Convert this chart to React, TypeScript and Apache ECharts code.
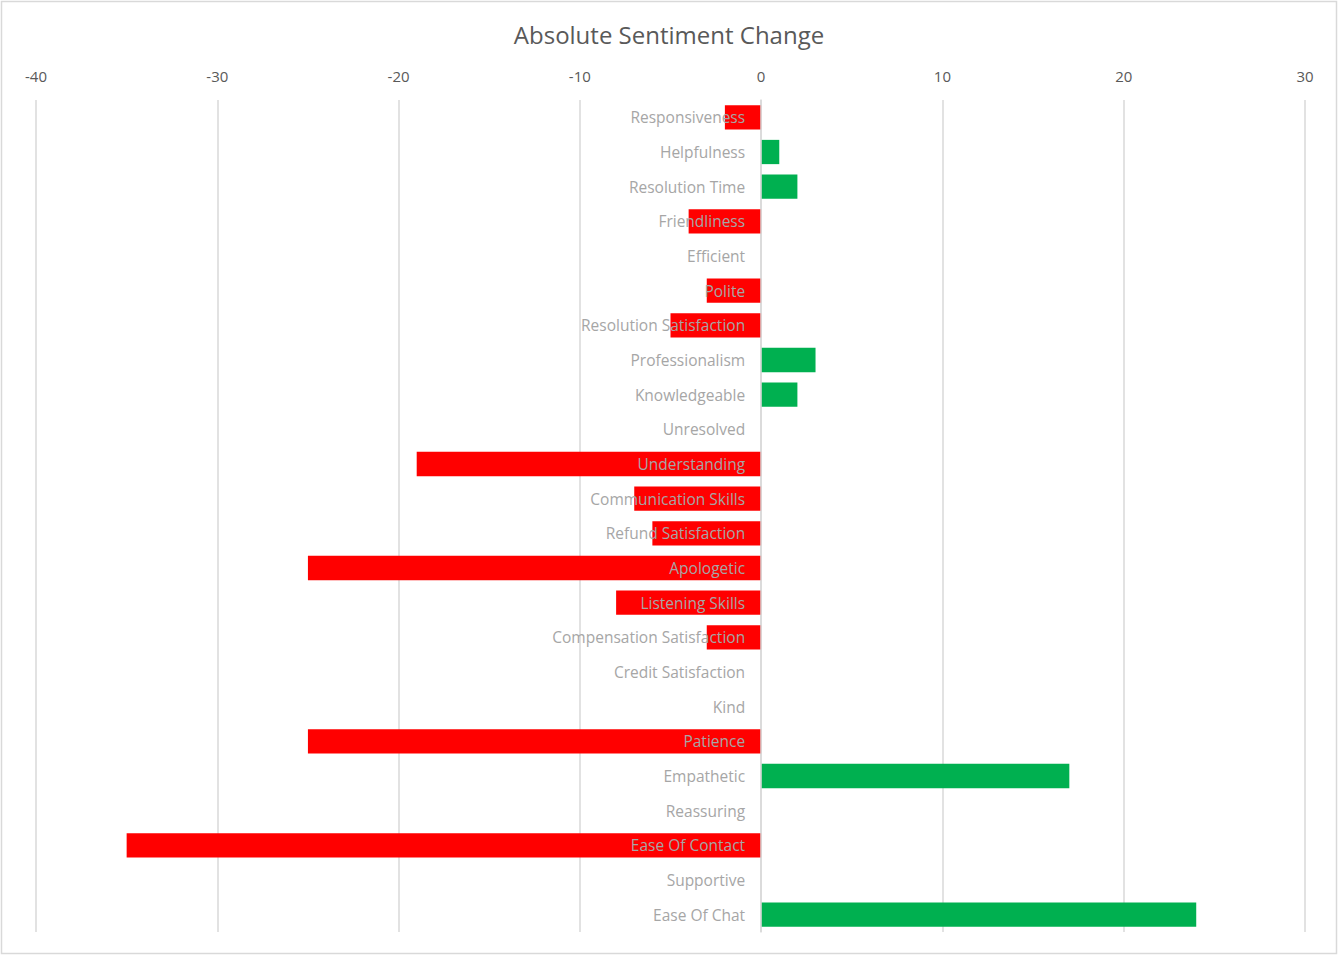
import React, { useEffect, useRef } from "react";
import * as echarts from "echarts";

const categories = [
  "Responsiveness",
  "Helpfulness",
  "Resolution Time",
  "Friendliness",
  "Efficient",
  "Polite",
  "Resolution Satisfaction",
  "Professionalism",
  "Knowledgeable",
  "Unresolved",
  "Understanding",
  "Communication Skills",
  "Refund Satisfaction",
  "Apologetic",
  "Listening Skills",
  "Compensation Satisfaction",
  "Credit Satisfaction",
  "Kind",
  "Patience",
  "Empathetic",
  "Reassuring",
  "Ease Of Contact",
  "Supportive",
  "Ease Of Chat",
];

const changeValues = [
  -2, 1, 2, -4, 0, -3, -5, 3, 2, 0, -19, -7, -6, -25, -8, -3, 0, 0, -25, 17, 0, -35, 0, 24,
];

const xMin = -40;
const xMax = 30;
const xInterval = 10;

const GRID_LEFT = 36;
const GRID_RIGHT = 33;
const WIDTH = 1338;

export default function App() {
  const ref = useRef<HTMLDivElement>(null);

  useEffect(() => {
    if (!ref.current) return;
    const chart = echarts.init(ref.current, null, { renderer: "svg" });
    const plotW = WIDTH - GRID_LEFT - GRID_RIGHT;
    const zeroOffset = ((0 - xMin) / (xMax - xMin)) * plotW;
    chart.setOption({
      animation: false,
      backgroundColor: "#ffffff",
      title: {
        text: "Absolute Sentiment Change",
        left: "center",
        top: 17,
        textStyle: {
          fontFamily: "Open Sans",
          fontSize: 24,
          fontWeight: "normal",
          color: "#595959",
        },
      },
      graphic: [
        {
          type: "rect",
          shape: { x: 1.5, y: 1.5, width: 1335, height: 952 },
          style: { fill: "none", stroke: "#d9d9d9", lineWidth: 1.5 },
          silent: true,
        },
      ],
      grid: {
        left: GRID_LEFT,
        right: GRID_RIGHT,
        top: 100,
        bottom: 24,
        containLabel: false,
        outerBoundsMode: "none",
      },
      xAxis: {
        type: "value",
        position: "top",
        min: xMin,
        max: xMax,
        interval: xInterval,
        axisLine: { show: false },
        axisTick: { show: false },
        axisLabel: {
          margin: 17,
          fontFamily: "Open Sans",
          fontSize: 15,
          color: "#595959",
        },
        splitLine: { show: true, lineStyle: { color: "#d9d9d9", width: 1.5 } },
      },
      yAxis: {
        type: "category",
        data: categories,
        inverse: true,
        position: "left",
        offset: -zeroOffset,
        z: 10,
        axisLine: { show: true, onZero: false, lineStyle: { color: "#d9d9d9", width: 1.5 } },
        axisTick: { show: false },
        axisLabel: {
          margin: 16,
          fontFamily: "Open Sans",
          fontSize: 15.5,
          color: "#a6a6a6",
        },
        splitLine: { show: false },
      },
      series: [
        {
          type: "bar",
          data: changeValues.map((v) => ({
            value: v,
            itemStyle: { color: v < 0 ? "#ff0000" : "#00b050" },
          })),
          barCategoryGap: "30%",
        },
      ],
    });
    return () => chart.dispose();
  }, []);

  return (
    <>
      <style>{`body{margin:0;}`}</style>
      <div
        ref={ref}
        style={{ position: "absolute", left: 0, top: 0, width: 1338, height: 956 }}
      />
    </>
  );
}
